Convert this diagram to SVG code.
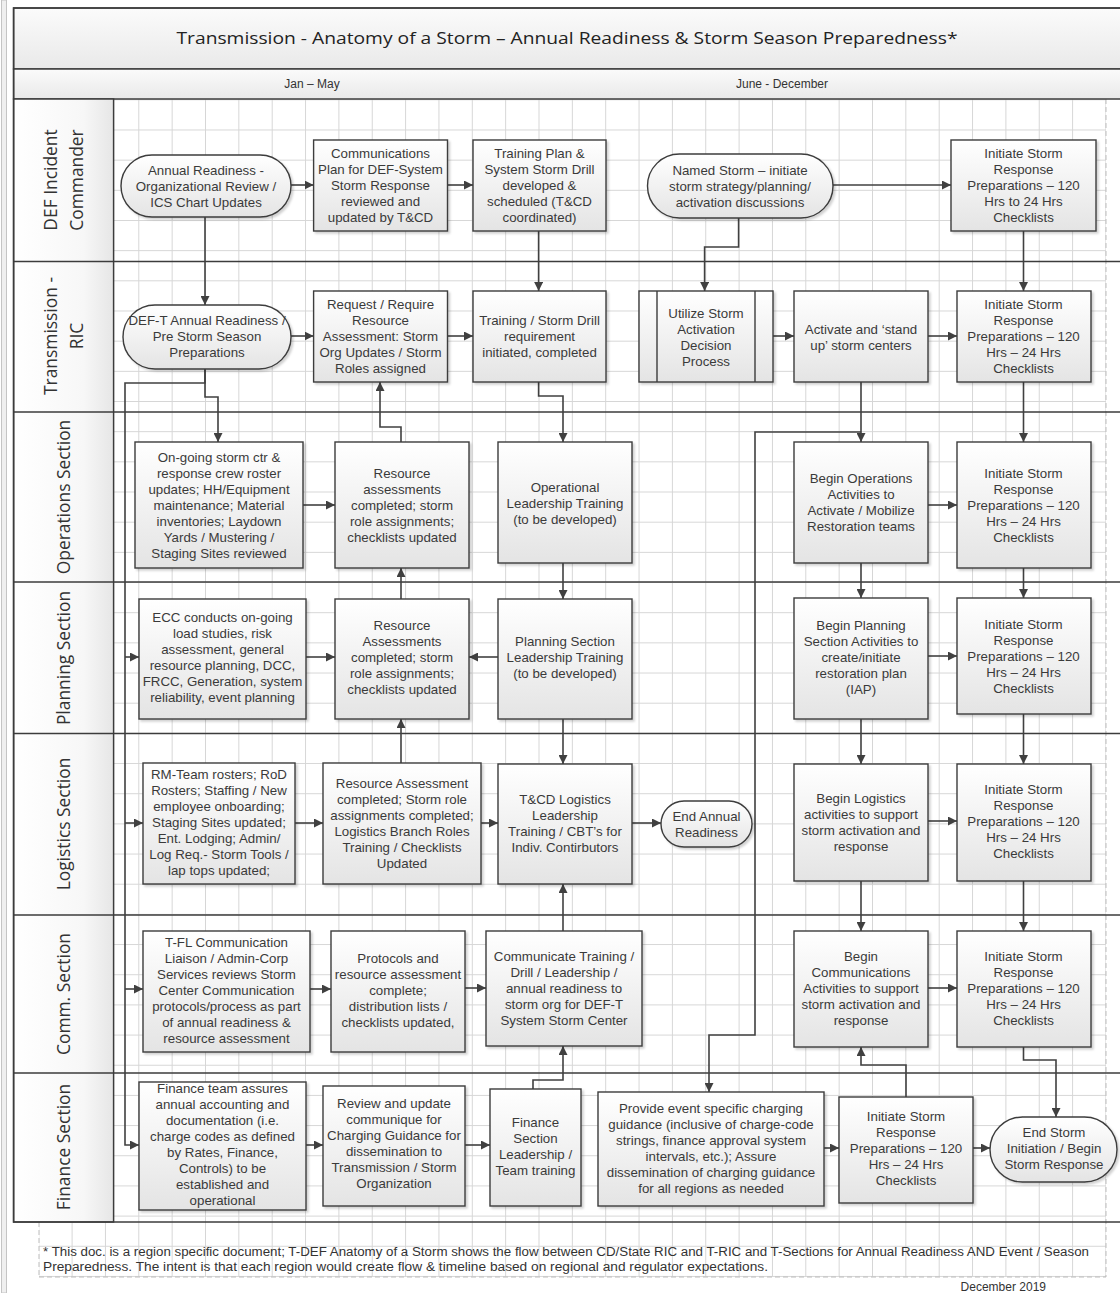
<svg xmlns="http://www.w3.org/2000/svg" width="1120" height="1293" viewBox="0 0 1120 1293">
<defs>
<style>
.box{fill:url(#gBox);stroke:#3c3c3c;stroke-width:1.4;filter:url(#sh)}
.t{font-family:"Liberation Sans",Arial,sans-serif;font-size:13.3px;fill:#3a3a3a;text-anchor:middle}
.lane{font-family:"Open Sans","Noto Sans",sans-serif;font-size:17.4px;fill:#333;text-anchor:middle}
.hdr{font-family:"Liberation Sans",Arial,sans-serif;font-size:12px;fill:#333;text-anchor:middle}
.foot{font-family:"Liberation Sans",Arial,sans-serif;font-size:12px;fill:#333}
.c{fill:none;stroke:#404040;stroke-width:1.6}
.a{marker-end:url(#ah)}
.sep{stroke:#3c3c3c;stroke-width:1.5;fill:none}
.dash{stroke:#bdbdbd;stroke-width:1;stroke-dasharray:5 3;fill:none}
</style>
<linearGradient id="gBox" x1="0" y1="0" x2="0" y2="1"><stop offset="0" stop-color="#ffffff"/><stop offset="1" stop-color="#e4e4e4"/></linearGradient>
<linearGradient id="gHead" x1="0" y1="0" x2="0" y2="1"><stop offset="0" stop-color="#fbfbfb"/><stop offset="1" stop-color="#e9e9e9"/></linearGradient>
<linearGradient id="gLane" x1="0" y1="0" x2="1" y2="0"><stop offset="0" stop-color="#ffffff"/><stop offset="0.7" stop-color="#f7f7f7"/><stop offset="1" stop-color="#e6e6e6"/></linearGradient>
<pattern id="grid" patternUnits="userSpaceOnUse" x="4.9" y="8.8" width="33.35" height="30.17"><path d="M0.5,0 V30.17 M0,0.5 H33.35" stroke="#d6d6d6" stroke-width="1" fill="none"/></pattern>
<marker id="ah" viewBox="0 0 10 10" refX="10" refY="5" markerUnits="userSpaceOnUse" markerWidth="9" markerHeight="9" orient="auto"><path d="M0,0 L10,5 L0,10 z" fill="#404040"/></marker>
<filter id="sh" x="-10%" y="-10%" width="130%" height="130%"><feDropShadow dx="2" dy="2" stdDeviation="1.2" flood-color="#000" flood-opacity="0.18"/></filter>
</defs>

<g id="page">
<rect x="0" y="0" width="1120" height="1293" fill="#ffffff"/>
<rect x="1.5" y="0" width="5" height="1293" fill="#efefef" stroke="#c4c4c4" stroke-width="1"/>
<rect x="113.6" y="99" width="992.4" height="1123" fill="url(#grid)"/>
<rect x="39" y="1222" width="1067" height="55" fill="url(#grid)"/>
<path class="dash" d="M1106,99 V1277 M39,1277 H1106 M39,1222 V1277"/>
<rect x="13.6" y="8" width="1120" height="61" fill="url(#gHead)" stroke="#3c3c3c" stroke-width="1.5"/>
<rect x="13.6" y="69" width="1120" height="30" fill="url(#gHead)" stroke="#3c3c3c" stroke-width="1.5"/>
<rect x="13.6" y="99" width="100" height="1123" fill="url(#gLane)" stroke="#3c3c3c" stroke-width="1.5"/>
<rect x="13.6" y="8" width="1120" height="1214" class="sep"/>
<path class="sep" d="M13.6,261.5 H1120 M13.6,412 H1120 M13.6,582 H1120 M13.6,733.5 H1120 M13.6,915 H1120 M13.6,1073 H1120"/>
<text x="567" y="44" font-family="Open Sans, Noto Sans, sans-serif" font-size="16.4" fill="#222" text-anchor="middle" textLength="781" lengthAdjust="spacingAndGlyphs">Transmission - Anatomy of a Storm – Annual Readiness &amp; Storm Season Preparedness*</text>
<text class="hdr" x="312" y="88">Jan – May</text>
<text class="hdr" x="782" y="88">June - December</text>
<text class="lane" transform="translate(57,180) rotate(-90)">DEF Incident</text>
<text class="lane" transform="translate(83,180) rotate(-90)">Commander</text>
<text class="lane" transform="translate(57,336) rotate(-90)">Transmission -</text>
<text class="lane" transform="translate(83,336) rotate(-90)">RIC</text>
<text class="lane" transform="translate(70,497) rotate(-90)">Operations Section</text>
<text class="lane" transform="translate(70,658) rotate(-90)">Planning Section</text>
<text class="lane" transform="translate(70,824) rotate(-90)">Logistics Section</text>
<text class="lane" transform="translate(70,994) rotate(-90)">Comm. Section</text>
<text class="lane" transform="translate(70,1147) rotate(-90)">Finance Section</text>
<text class="foot" x="43" y="1256" textLength="1046" lengthAdjust="spacingAndGlyphs">* This doc. is a region specific document; T-DEF Anatomy of a Storm shows the flow between CD/State RIC and T-RIC and T-Sections for Annual Readiness AND Event / Season</text>
<text class="foot" x="43" y="1271" textLength="725" lengthAdjust="spacingAndGlyphs">Preparedness. The intent is that each region would create flow &amp; timeline based on regional and regulator expectations.</text>
<text class="foot" x="1046" y="1291" font-size="11.5" text-anchor="end">December 2019</text>
</g>

<g id="connectors">
<path class="c a" d="M205,217 V305"/>
<path class="c a" d="M291,185 H313.6"/>
<path class="c a" d="M447.5,185 H473"/>
<path class="c a" d="M538.6,231 V291"/>
<path class="c a" d="M738.6,218 V247 H704.6 V291"/>
<path class="c a" d="M833,185 H951"/>
<path class="c a" d="M1023.5,231 V291"/>
<path class="c a" d="M291,336 H313.6"/>
<path class="c a" d="M447.5,336 H473"/>
<path class="c a" d="M773,336 H794"/>
<path class="c a" d="M928,336 H957"/>
<path class="c a" d="M205,369 V383 H125 V1145 H139"/>
<path class="c a" d="M125,657 H139"/>
<path class="c a" d="M125,823 H143"/>
<path class="c a" d="M125,989 H143"/>
<path class="c a" d="M205,369 V397 H218 V442"/>
<path class="c a" d="M303,505 H335"/>
<path class="c a" d="M401,442 V427 H380 V382"/>
<path class="c a" d="M538.6,382 V396 H563 V442"/>
<path class="c a" d="M861,382 V442"/>
<path class="c a" d="M861,432 H755 V1035 H709 V1092"/>
<path class="c a" d="M1023.5,382 V442"/>
<path class="c a" d="M928,505 H957"/>
<path class="c a" d="M563,563 V599"/>
<path class="c a" d="M306,657 H335"/>
<path class="c a" d="M498,657 H469"/>
<path class="c a" d="M401,599 V568"/>
<path class="c a" d="M861,563 V598"/>
<path class="c a" d="M1023.5,568 V598"/>
<path class="c a" d="M928,656 H957"/>
<path class="c a" d="M295,823 H323"/>
<path class="c a" d="M401,763 V719"/>
<path class="c a" d="M481,823 H498"/>
<path class="c a" d="M563,719 V764"/>
<path class="c a" d="M632,823 H661"/>
<path class="c a" d="M861,719 V764"/>
<path class="c a" d="M1023.5,714 V764"/>
<path class="c a" d="M928,821 H957"/>
<path class="c a" d="M310,989 H331"/>
<path class="c a" d="M465,988 H486"/>
<path class="c a" d="M563,931 V884"/>
<path class="c a" d="M861,881 V931"/>
<path class="c a" d="M1023.5,881 V931"/>
<path class="c a" d="M928,988 H957"/>
<path class="c a" d="M306,1145 H323"/>
<path class="c a" d="M465,1145 H490"/>
<path class="c a" d="M533,1089 V1080 H563 V1046"/>
<path class="c a" d="M824,1148 H839"/>
<path class="c a" d="M906,1097 V1065 H861 V1047"/>
<path class="c a" d="M973,1148 H990"/>
<path class="c a" d="M1023.5,1047 V1060 H1056 V1117"/>
</g>

<g id="n1"><rect class="box" x="121" y="155" width="170" height="62" rx="31"/><text class="t"><tspan x="206" y="174.5">Annual Readiness -</tspan><tspan x="206" y="190.5">Organizational Review /</tspan><tspan x="206" y="206.5">ICS Chart Updates</tspan></text></g>
<g id="n2"><rect class="box" x="313.6" y="140" width="133.9" height="91"/><text class="t"><tspan x="380.5" y="158">Communications</tspan><tspan x="380.5" y="174">Plan for DEF-System</tspan><tspan x="380.5" y="190">Storm Response</tspan><tspan x="380.5" y="206">reviewed and</tspan><tspan x="380.5" y="222">updated by T&amp;CD</tspan></text></g>
<g id="n3"><rect class="box" x="473" y="140" width="133" height="91"/><text class="t"><tspan x="539.5" y="158">Training Plan &amp;</tspan><tspan x="539.5" y="174">System Storm Drill</tspan><tspan x="539.5" y="190">developed &amp;</tspan><tspan x="539.5" y="206">scheduled (T&amp;CD</tspan><tspan x="539.5" y="222">coordinated)</tspan></text></g>
<g id="n4"><rect class="box" x="647.5" y="154" width="185.5" height="64" rx="32"/><text class="t"><tspan x="740" y="174.5">Named Storm – initiate</tspan><tspan x="740" y="190.5">storm strategy/planning/</tspan><tspan x="740" y="206.5">activation discussions</tspan></text></g>
<g id="n5"><rect class="box" x="951" y="140" width="145" height="91"/><text class="t"><tspan x="1023.5" y="158">Initiate Storm</tspan><tspan x="1023.5" y="174">Response</tspan><tspan x="1023.5" y="190">Preparations – 120</tspan><tspan x="1023.5" y="206">Hrs to 24 Hrs</tspan><tspan x="1023.5" y="222">Checklists</tspan></text></g>

<g id="n6"><rect class="box" x="123" y="305" width="168" height="64" rx="32"/><text class="t"><tspan x="207" y="325">DEF-T Annual Readiness /</tspan><tspan x="207" y="341">Pre Storm Season</tspan><tspan x="207" y="357">Preparations</tspan></text></g>
<g id="n7"><rect class="box" x="313.6" y="291" width="133.9" height="91"/><text class="t"><tspan x="380.5" y="309">Request / Require</tspan><tspan x="380.5" y="325">Resource</tspan><tspan x="380.5" y="341">Assessment: Storm</tspan><tspan x="380.5" y="357">Org Updates / Storm</tspan><tspan x="380.5" y="373">Roles assigned</tspan></text></g>
<g id="n8"><rect class="box" x="473" y="291" width="133" height="91"/><text class="t"><tspan x="539.5" y="325">Training / Storm Drill</tspan><tspan x="539.5" y="341">requirement</tspan><tspan x="539.5" y="357">initiated, completed</tspan></text></g>
<g id="n8b"><rect class="box" x="639" y="291" width="134" height="91"/><path d="M657,291 V382 M755,291 V382" stroke="#3c3c3c" stroke-width="1.4"/><text class="t"><tspan x="706" y="317.5">Utilize Storm</tspan><tspan x="706" y="333.5">Activation</tspan><tspan x="706" y="349.5">Decision</tspan><tspan x="706" y="365.5">Process</tspan></text></g>
<g id="n8c"><rect class="box" x="794" y="291" width="134" height="91"/><text class="t"><tspan x="861" y="333.5">Activate and ‘stand</tspan><tspan x="861" y="349.5">up’ storm centers</tspan></text></g>
<g id="n8d"><rect class="box" x="957" y="291" width="134" height="91"/><text class="t"><tspan x="1023.5" y="309">Initiate Storm</tspan><tspan x="1023.5" y="325">Response</tspan><tspan x="1023.5" y="341">Preparations – 120</tspan><tspan x="1023.5" y="357">Hrs – 24 Hrs</tspan><tspan x="1023.5" y="373">Checklists</tspan></text></g>

<g id="n9"><rect class="box" x="135" y="442" width="168" height="126"/><text class="t"><tspan x="219" y="461.5">On-going storm ctr &amp;</tspan><tspan x="219" y="477.5">response crew roster</tspan><tspan x="219" y="493.5">updates; HH/Equipment</tspan><tspan x="219" y="509.5">maintenance; Material</tspan><tspan x="219" y="525.5">inventories; Laydown</tspan><tspan x="219" y="541.5">Yards / Mustering /</tspan><tspan x="219" y="557.5">Staging Sites reviewed</tspan></text></g>
<g id="n10"><rect class="box" x="335" y="442" width="134" height="126"/><text class="t"><tspan x="402" y="477.5">Resource</tspan><tspan x="402" y="493.5">assessments</tspan><tspan x="402" y="509.5">completed; storm</tspan><tspan x="402" y="525.5">role assignments;</tspan><tspan x="402" y="541.5">checklists updated</tspan></text></g>
<g id="n11"><rect class="box" x="498" y="442" width="134" height="121"/><text class="t"><tspan x="565" y="491.5">Operational</tspan><tspan x="565" y="507.5">Leadership Training</tspan><tspan x="565" y="523.5">(to be developed)</tspan></text></g>
<g id="n11b"><rect class="box" x="794" y="442" width="134" height="121"/><text class="t"><tspan x="861" y="482.5">Begin Operations</tspan><tspan x="861" y="498.5">Activities to</tspan><tspan x="861" y="514.5">Activate / Mobilize</tspan><tspan x="861" y="530.5">Restoration teams</tspan></text></g>
<g id="n11c"><rect class="box" x="957" y="442" width="134" height="126"/><text class="t"><tspan x="1023.5" y="477.5">Initiate Storm</tspan><tspan x="1023.5" y="493.5">Response</tspan><tspan x="1023.5" y="509.5">Preparations – 120</tspan><tspan x="1023.5" y="525.5">Hrs – 24 Hrs</tspan><tspan x="1023.5" y="541.5">Checklists</tspan></text></g>

<g id="n12"><rect class="box" x="139" y="599" width="167" height="120"/><text class="t"><tspan x="222.5" y="621.5">ECC conducts on-going</tspan><tspan x="222.5" y="637.5">load studies, risk</tspan><tspan x="222.5" y="653.5">assessment, general</tspan><tspan x="222.5" y="669.5">resource planning, DCC,</tspan><tspan x="222.5" y="685.5">FRCC, Generation, system</tspan><tspan x="222.5" y="701.5">reliability, event planning</tspan></text></g>
<g id="n13"><rect class="box" x="335" y="599" width="134" height="120"/><text class="t"><tspan x="402" y="629.5">Resource</tspan><tspan x="402" y="645.5">Assessments</tspan><tspan x="402" y="661.5">completed; storm</tspan><tspan x="402" y="677.5">role assignments;</tspan><tspan x="402" y="693.5">checklists updated</tspan></text></g>
<g id="n14"><rect class="box" x="498" y="599" width="134" height="120"/><text class="t"><tspan x="565" y="645.5">Planning Section</tspan><tspan x="565" y="661.5">Leadership Training</tspan><tspan x="565" y="677.5">(to be developed)</tspan></text></g>
<g id="n14b"><rect class="box" x="794" y="598" width="134" height="121"/><text class="t"><tspan x="861" y="629.5">Begin Planning</tspan><tspan x="861" y="645.5">Section Activities to</tspan><tspan x="861" y="661.5">create/initiate</tspan><tspan x="861" y="677.5">restoration plan</tspan><tspan x="861" y="693.5">(IAP)</tspan></text></g>
<g id="n14c"><rect class="box" x="957" y="598" width="134" height="116"/><text class="t"><tspan x="1023.5" y="628.5">Initiate Storm</tspan><tspan x="1023.5" y="644.5">Response</tspan><tspan x="1023.5" y="660.5">Preparations – 120</tspan><tspan x="1023.5" y="676.5">Hrs – 24 Hrs</tspan><tspan x="1023.5" y="692.5">Checklists</tspan></text></g>

<g id="n15"><rect class="box" x="143" y="763" width="152" height="121"/><text class="t"><tspan x="219" y="778.5">RM-Team rosters; RoD</tspan><tspan x="219" y="794.5">Rosters;  Staffing / New</tspan><tspan x="219" y="810.5">employee onboarding;</tspan><tspan x="219" y="826.5">Staging Sites updated;</tspan><tspan x="219" y="842.5">Ent. Lodging; Admin/</tspan><tspan x="219" y="858.5">Log Req.- Storm Tools /</tspan><tspan x="219" y="874.5">lap tops updated;</tspan></text></g>
<g id="n16"><rect class="box" x="323" y="763" width="158" height="121"/><text class="t"><tspan x="402" y="787.5">Resource Assessment</tspan><tspan x="402" y="803.5">completed; Storm role</tspan><tspan x="402" y="819.5">assignments completed;</tspan><tspan x="402" y="835.5">Logistics Branch Roles</tspan><tspan x="402" y="851.5">Training / Checklists</tspan><tspan x="402" y="867.5">Updated</tspan></text></g>
<g id="n17"><rect class="box" x="498" y="764" width="134" height="120"/><text class="t"><tspan x="565" y="803.5">T&amp;CD Logistics</tspan><tspan x="565" y="819.5">Leadership</tspan><tspan x="565" y="835.5">Training / CBT’s for</tspan><tspan x="565" y="851.5">Indiv. Contirbutors</tspan></text></g>
<g id="n17b"><rect class="box" x="661" y="801" width="91" height="46" rx="23"/><text class="t"><tspan x="706.5" y="820.5">End Annual</tspan><tspan x="706.5" y="836.5">Readiness</tspan></text></g>
<g id="n17c"><rect class="box" x="794" y="764" width="134" height="117"/><text class="t"><tspan x="861" y="802.5">Begin Logistics</tspan><tspan x="861" y="818.5">activities to support</tspan><tspan x="861" y="834.5">storm activation and</tspan><tspan x="861" y="850.5">response</tspan></text></g>
<g id="n17d"><rect class="box" x="957" y="764" width="134" height="117"/><text class="t"><tspan x="1023.5" y="793.5">Initiate Storm</tspan><tspan x="1023.5" y="809.5">Response</tspan><tspan x="1023.5" y="825.5">Preparations – 120</tspan><tspan x="1023.5" y="841.5">Hrs – 24 Hrs</tspan><tspan x="1023.5" y="857.5">Checklists</tspan></text></g>

<g id="n18"><rect class="box" x="143" y="931" width="167" height="121"/><text class="t"><tspan x="226.5" y="946.5">T-FL Communication</tspan><tspan x="226.5" y="962.5">Liaison / Admin-Corp</tspan><tspan x="226.5" y="978.5">Services reviews Storm</tspan><tspan x="226.5" y="994.5">Center Communication</tspan><tspan x="226.5" y="1010.5">protocols/process as part</tspan><tspan x="226.5" y="1026.5">of annual readiness &amp;</tspan><tspan x="226.5" y="1042.5">resource assessment</tspan></text></g>
<g id="n19"><rect class="box" x="331" y="931" width="134" height="121"/><text class="t"><tspan x="398" y="962.5">Protocols and</tspan><tspan x="398" y="978.5">resource assessment</tspan><tspan x="398" y="994.5">complete;</tspan><tspan x="398" y="1010.5">distribution lists /</tspan><tspan x="398" y="1026.5">checklists updated,</tspan></text></g>
<g id="n20"><rect class="box" x="486" y="931" width="156" height="115"/><text class="t"><tspan x="564" y="960.5">Communicate Training /</tspan><tspan x="564" y="976.5">Drill / Leadership /</tspan><tspan x="564" y="992.5">annual readiness to</tspan><tspan x="564" y="1008.5">storm org for DEF-T</tspan><tspan x="564" y="1024.5">System Storm Center</tspan></text></g>
<g id="n20b"><rect class="box" x="794" y="931" width="134" height="116"/><text class="t"><tspan x="861" y="960.5">Begin</tspan><tspan x="861" y="976.5">Communications</tspan><tspan x="861" y="992.5">Activities to support</tspan><tspan x="861" y="1008.5">storm activation and</tspan><tspan x="861" y="1024.5">response</tspan></text></g>
<g id="n20c"><rect class="box" x="957" y="931" width="134" height="116"/><text class="t"><tspan x="1023.5" y="960.5">Initiate Storm</tspan><tspan x="1023.5" y="976.5">Response</tspan><tspan x="1023.5" y="992.5">Preparations – 120</tspan><tspan x="1023.5" y="1008.5">Hrs – 24 Hrs</tspan><tspan x="1023.5" y="1024.5">Checklists</tspan></text></g>

<g id="n21"><rect class="box" x="139" y="1082" width="167" height="128"/><text class="t"><tspan x="222.5" y="1092.5">Finance team assures</tspan><tspan x="222.5" y="1108.5">annual accounting  and</tspan><tspan x="222.5" y="1124.5">documentation (i.e.</tspan><tspan x="222.5" y="1140.5">charge codes as defined</tspan><tspan x="222.5" y="1156.5">by Rates, Finance,</tspan><tspan x="222.5" y="1172.5">Controls) to be</tspan><tspan x="222.5" y="1188.5">established and</tspan><tspan x="222.5" y="1204.5">operational</tspan></text></g>
<g id="n22"><rect class="box" x="323" y="1086" width="142" height="120"/><text class="t"><tspan x="394" y="1107.5">Review and update</tspan><tspan x="394" y="1123.5">communique for</tspan><tspan x="394" y="1139.5">Charging Guidance for</tspan><tspan x="394" y="1155.5">dissemination to</tspan><tspan x="394" y="1171.5">Transmission / Storm</tspan><tspan x="394" y="1187.5">Organization</tspan></text></g>
<g id="n23"><rect class="box" x="490" y="1089" width="91" height="117"/><text class="t"><tspan x="535.5" y="1126.5">Finance</tspan><tspan x="535.5" y="1142.5">Section</tspan><tspan x="535.5" y="1158.5">Leadership /</tspan><tspan x="535.5" y="1174.5">Team training</tspan></text></g>
<g id="n24"><rect class="box" x="598" y="1092" width="226" height="114"/><text class="t"><tspan x="711" y="1112.5">Provide event specific charging</tspan><tspan x="711" y="1128.5">guidance (inclusive of charge-code</tspan><tspan x="711" y="1144.5">strings, finance approval system</tspan><tspan x="711" y="1160.5">intervals, etc.); Assure</tspan><tspan x="711" y="1176.5">dissemination of charging guidance</tspan><tspan x="711" y="1192.5">for all regions as needed</tspan></text></g>
<g id="n25"><rect class="box" x="839" y="1097" width="134" height="106"/><text class="t"><tspan x="906" y="1120.5">Initiate Storm</tspan><tspan x="906" y="1136.5">Response</tspan><tspan x="906" y="1152.5">Preparations – 120</tspan><tspan x="906" y="1168.5">Hrs – 24 Hrs</tspan><tspan x="906" y="1184.5">Checklists</tspan></text></g>
<g id="n26"><rect class="box" x="990" y="1117" width="127" height="65" rx="32.5"/><text class="t"><tspan x="1054" y="1136.5">End Storm</tspan><tspan x="1054" y="1152.5">Initiation / Begin</tspan><tspan x="1054" y="1168.5">Storm Response</tspan></text></g>
</svg>
